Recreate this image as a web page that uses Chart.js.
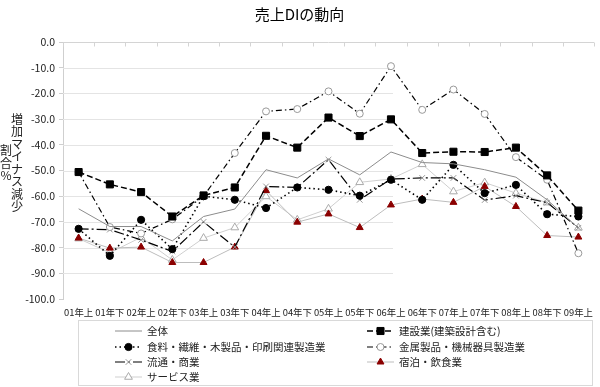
<!DOCTYPE html>
<html>
<head>
<meta charset="utf-8">
<script src="https://cdn.jsdelivr.net/npm/chart.js@4.4.1/dist/chart.umd.min.js"></script>
<style>
  html, body { margin: 0; padding: 0; background: #fff; }
  canvas { display: block; }
</style>
</head>
<body>
<canvas id="chart" width="600" height="387"></canvas>
<script>
var categories = ['01年上', '01年下', '02年上', '02年下', '03年上', '03年下', '04年上', '04年下', '05年上',
    '05年下', '06年上', '06年下', '07年上', '07年下', '08年上', '08年下', '09年上'];

var zentai    = [-64.9, -71.8, -71.8, -77.4, -67.9, -65.0, -49.7, -52.9, -45.5, -51.7, -42.8, -46.9, -47.4, -49.7, -52.6, -61.4, -72.4];
var kensetsu  = [-50.6, -55.4, -58.4, -67.9, -59.7, -56.6, -36.5, -41.1, -29.4, -36.6, -30.1, -43.2, -42.7, -42.8, -41.1, -51.9, -65.6];
var shokuryo  = [-72.7, -83.2, -69.2, -80.6, -60.0, -61.4, -64.6, -56.6, -57.5, -59.8, -53.6, -61.4, -47.8, -58.8, -55.6, -67.0, -67.9];
var kinzoku   = [-50.6, -72.0, -74.5, -69.0, -60.0, -43.2, -27.0, -26.1, -19.2, -27.9, -9.4, -26.4, -18.5, -28.0, -44.8, -53.6, -82.2];
var ryutsu    = [-72.7, -73.0, -77.0, -81.5, -70.0, -79.8, -56.2, -56.6, -45.8, -61.4, -53.3, -52.9, -52.9, -61.5, -59.8, -62.5, -72.3];
var shukuhaku = [-76.3, -80.2, -79.8, -85.8, -85.8, -79.8, -57.8, -70.1, -66.9, -72.2, -63.4, -61.1, -62.4, -56.2, -64.0, -75.3, -75.9];
var service   = [-76.5, -82.0, -76.0, -84.8, -76.3, -72.2, -60.1, -69.2, -64.9, -54.6, -53.3, -47.6, -58.2, -54.7, -58.8, -62.5, -72.3];

var yTicks = [0, -10, -20, -30, -40, -50, -60, -70, -80, -90, -100];
var yLabelCols = ['増加マイナス減少', '割合%'];

Chart.defaults.font.family = '"Noto Sans CJK JP", "Noto Sans", sans-serif';
Chart.defaults.color = '#222';

function series(label, data, style) {
    return Object.assign({
        label: label,
        data: data,
        fill: false,
        tension: 0,
        borderWidth: 1,
        borderDash: [],
        pointRadius: 0,
        pointBorderWidth: 1
    }, style);
}

// Excel-like grid: horizontal lines only over the left part, axis line at 0 with small ticks
var gridPlugin = {
    id: 'excelGrid',
    beforeDatasetsDraw: function(chart) {
        var ctx = chart.ctx, x = chart.scales.x, y = chart.scales.y, area = chart.chartArea;
        var step = x.getPixelForValue(1) - x.getPixelForValue(0);
        var gridEnd = x.getPixelForValue(10) + 2;
        ctx.save();
        ctx.lineWidth = 1;
        ctx.strokeStyle = '#e4e4e4';
        yTicks.forEach(function(v) {
            if (v === 0 || v === -100) return;
            var py = Math.round(y.getPixelForValue(v)) + 0.5;
            ctx.beginPath();
            ctx.moveTo(area.left, py);
            ctx.lineTo(gridEnd, py);
            ctx.stroke();
        });
        var p0 = Math.round(y.getPixelForValue(0)) + 0.5;
        ctx.strokeStyle = '#d4d4d4';
        ctx.beginPath();
        ctx.moveTo(area.left, p0);
        ctx.lineTo(area.right, p0);
        for (var i = 0; i <= categories.length; i++) {
            var px = Math.round(x.getPixelForValue(i) - step / 2) + 0.5;
            ctx.moveTo(px, p0);
            ctx.lineTo(px, p0 + 4);
        }
        ctx.stroke();
        ctx.restore();
    }
};

// category labels, vertical y axis title and boxed two-column legend
var decorPlugin = {
    id: 'decor',
    afterDraw: function(chart) {
        var ctx = chart.ctx, x = chart.scales.x, area = chart.chartArea;
        ctx.save();
        ctx.fillStyle = '#222';
        ctx.textAlign = 'center';
        ctx.textBaseline = 'middle';
        ctx.font = '9.4px "Noto Sans CJK JP"';
        categories.forEach(function(c, i) {
            ctx.fillText(c, x.getPixelForValue(i), area.bottom + 13);
        });

        ctx.font = '12px "Noto Sans CJK JP"';
        var colX = [17, 6], midY = 163, lh = 12.5;
        yLabelCols.forEach(function(text, c) {
            var chars = Array.from(text);
            chars.forEach(function(ch, i) {
                ctx.fillText(ch, colX[c], midY + (i - (chars.length - 1) / 2) * lh);
            });
        });

        ctx.strokeStyle = '#d9d9d9';
        ctx.lineWidth = 1;
        ctx.strokeRect(78.5, 320.5, 514, 65);
        var rowY = [331, 347, 362, 377];
        ctx.textAlign = 'left';
        ctx.font = '10.5px "Noto Sans CJK JP"';
        chart.data.datasets.forEach(function(ds, i) {
            var x0 = (i % 2) ? 367 : 115, x1 = x0 + 27, yy = rowY[Math.floor(i / 2)];
            ctx.beginPath();
            ctx.setLineDash(ds.borderDash);
            ctx.strokeStyle = ds.borderColor;
            ctx.lineWidth = ds.borderWidth;
            ctx.moveTo(x0, yy);
            ctx.lineTo(x1, yy);
            ctx.stroke();
            ctx.setLineDash([]);
            if (ds.pointRadius > 0) {
                ctx.fillStyle = ds.pointBackgroundColor;
                ctx.strokeStyle = ds.pointBorderColor;
                ctx.lineWidth = ds.pointBorderWidth;
                Chart.helpers.drawPoint(ctx, {
                    pointStyle: ds.pointStyle,
                    radius: ds.pointRadius,
                    borderWidth: ds.pointBorderWidth,
                    rotation: 0
                }, (x0 + x1) / 2, yy);
            }
            ctx.fillStyle = '#222';
            ctx.fillText(ds.label, x1 + 5, yy);
        });
        ctx.restore();
    }
};

new Chart(document.getElementById('chart').getContext('2d'), {
    type: 'line',
    data: {
        labels: categories,
        datasets: [
            series('全体', zentai, { borderColor: '#8c8c8c' }),
            series('建設業(建築設計含む)', kensetsu, {
                borderColor: '#000', borderWidth: 1.5, borderDash: [6, 3],
                pointStyle: 'rect', pointRadius: 5,
                pointBackgroundColor: '#000', pointBorderColor: '#000'
            }),
            series('食料・繊維・木製品・印刷関連製造業', shokuryo, {
                borderColor: '#000', borderWidth: 1.6, borderDash: [1.5, 3],
                pointStyle: 'circle', pointRadius: 3.6,
                pointBackgroundColor: '#000', pointBorderColor: '#000'
            }),
            series('金属製品・機械器具製造業', kinzoku, {
                borderColor: '#000', borderWidth: 1.2, borderDash: [6, 3, 1.5, 3],
                pointStyle: 'circle', pointRadius: 3.5,
                pointBackgroundColor: '#fff', pointBorderColor: '#999'
            }),
            series('流通・商業', ryutsu, {
                borderColor: '#000', borderWidth: 1.2, borderDash: [10, 3, 2, 3],
                pointStyle: 'crossRot', pointRadius: 4,
                pointBackgroundColor: '#999', pointBorderColor: '#999'
            }),
            series('宿泊・飲食業', shukuhaku, {
                borderColor: '#bdbdbd',
                pointStyle: 'triangle', pointRadius: 4,
                pointBackgroundColor: '#8b0000', pointBorderColor: '#8b0000'
            }),
            series('サービス業', service, {
                borderColor: '#cfcfcf',
                pointStyle: 'triangle', pointRadius: 4.5,
                pointBackgroundColor: '#fff', pointBorderColor: '#aaa'
            })
        ]
    },
    options: {
        responsive: false,
        animation: false,
        devicePixelRatio: 1,
        layout: { padding: { left: 0, right: 1, top: 0, bottom: 70 } },
        plugins: {
            legend: { display: false },
            tooltip: { enabled: false },
            title: {
                display: true,
                text: '売上DIの動向',
                color: '#000',
                font: { size: 15, weight: 'normal' },
                padding: { top: 5, bottom: 19 }
            }
        },
        scales: {
            x: {
                offset: true,
                grid: { display: false },
                border: { display: false },
                ticks: { display: false },
                afterFit: function(scale) { scale.height = 18; }
            },
            y: {
                min: -100,
                max: 0,
                grid: { drawOnChartArea: false, tickLength: 4, color: '#cfcfcf' },
                border: { color: '#cfcfcf' },
                ticks: {
                    stepSize: 10,
                    padding: 4,
                    font: { size: 10.5 },
                    callback: function(v) { return v.toFixed(1); }
                },
                afterFit: function(scale) { scale.width = 63; }
            }
        }
    },
    plugins: [gridPlugin, decorPlugin]
});
</script>
</body>
</html>
